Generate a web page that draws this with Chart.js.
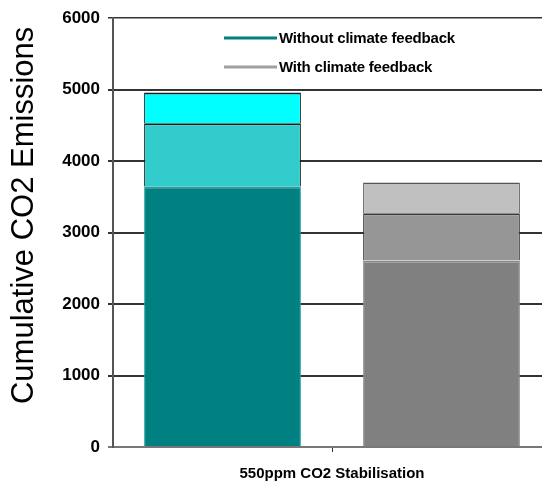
<!DOCTYPE html>
<html>
<head>
<meta charset="utf-8">
<script src="https://cdn.jsdelivr.net/npm/chart.js@4.4.1/dist/chart.umd.min.js"></script>
<style>
  html, body { margin: 0; padding: 0; background: #ffffff; overflow: hidden; }
  #wrap { width: 552px; height: 483px; }
</style>
</head>
<body>
<div id="wrap"><canvas id="c" width="552" height="483"></canvas></div>
<script>
// Category and axis labels
const categories = ['550ppm CO2 Stabilisation'];
const yTitle = '    Cumulative CO2 Emissions';
const legendLabels = ['Without climate feedback', 'With climate feedback'];

// Stacked segments (cumulative emissions, each segment added on top of the previous)
const withoutFeedbackBase = [3650];
const withoutFeedbackMid  = [880];
const withoutFeedbackTop  = [430];
const withFeedbackBase    = [2610];
const withFeedbackMid     = [660];
const withFeedbackTop     = [430];

const tealColors = ['#008080', '#33CCCC', '#00FFFF'];
const greyColors = ['#808080', '#969696', '#C0C0C0'];
const legendColors = ['#008080', '#A0A0A0'];

const FONT = '"Liberation Sans", Arial, sans-serif';

function seg(data, color, stack, edge, topW) {
  return {
    data: data,
    backgroundColor: color,
    borderColor: edge,
    borderWidth: { top: topW, left: 1, right: 1, bottom: 0 },
    borderSkipped: false,
    inflateAmount: 0,
    stack: stack,
    categoryPercentage: 1.0,
    barPercentage: 0.716
  };
}

// Line-style legend drawn inside the plot area
const lineLegend = {
  id: 'lineLegend',
  afterDatasetsDraw(chart) {
    const ctx = chart.ctx;
    ctx.save();
    const x0 = 224, x1 = 277;
    const rows = [38, 67];
    ctx.font = 'bold 15px ' + FONT;
    ctx.textBaseline = 'middle';
    ctx.textAlign = 'left';
    try { ctx.letterSpacing = '-0.2px'; } catch (e) {}
    legendLabels.forEach((label, i) => {
      ctx.strokeStyle = legendColors[i];
      ctx.lineWidth = 3;
      ctx.beginPath();
      ctx.moveTo(x0, rows[i]);
      ctx.lineTo(x1, rows[i]);
      ctx.stroke();
      ctx.fillStyle = '#000';
      ctx.fillText(label, x1 + 2, rows[i] + 1);
    });
    ctx.restore();
  }
};

const bgPlugin = {
  id: 'bg',
  beforeDraw(chart) {
    const ctx = chart.ctx;
    ctx.save();
    ctx.fillStyle = '#fff';
    ctx.fillRect(0, 0, chart.width, chart.height);
    ctx.restore();
  }
};

new Chart(document.getElementById('c'), {
  type: 'bar',
  data: {
    labels: categories,
    datasets: [
      seg(withoutFeedbackBase, tealColors[0], 'without', '#24a2a2', 2),
      seg(withoutFeedbackMid,  tealColors[1], 'without', '#1a1a1a', 2),
      seg(withoutFeedbackTop,  tealColors[2], 'without', '#1a1a1a', 2),
      seg(withFeedbackBase,    greyColors[0], 'with', '#8a8a8a', 2),
      seg(withFeedbackMid,     greyColors[1], 'with', '#3a3a3a', 2),
      seg(withFeedbackTop,     greyColors[2], 'with', '#555', 1.5)
    ]
  },
  options: {
    responsive: false,
    animation: false,
    devicePixelRatio: 1,
    layout: { padding: { top: 16, right: 1, left: 0, bottom: 0 } },
    plugins: {
      legend: { display: false },
      tooltip: { enabled: false }
    },
    scales: {
      x: {
        stacked: true,
        afterFit(scale) { scale.height = 36; },
        grid: {
          offset: false,
          drawOnChartArea: false,
          drawTicks: true,
          tickLength: 5,
          color: '#333',
          lineWidth: 1
        },
        border: { display: true, color: '#777', width: 2 },
        ticks: {
          color: '#000',
          padding: 13,
          font: { family: FONT, size: 15, weight: 'bold' }
        }
      },
      y: {
        stacked: true,
        min: 0,
        max: 6000,
        afterFit(scale) { scale.width = 113; },
        grid: {
          color: (c) => c.tick && c.tick.value === 0 ? '#777' : '#333',
          lineWidth: (c) => c.tick && c.tick.value === 6000 ? 1.5 : 2,
          tickLength: 5
        },
        border: { display: true, color: '#555', width: 2 },
        ticks: {
          stepSize: 1000,
          color: '#000',
          padding: 8,
          font: { family: FONT, size: 17, weight: 'bold' },
          callback: (v) => String(v)
        },
        title: {
          display: true,
          text: yTitle,
          color: '#000',
          padding: { top: 6, bottom: 0 },
          font: { family: FONT, size: 31, weight: 'normal' }
        }
      }
    }
  },
  plugins: [bgPlugin, lineLegend]
});
</script>
</body>
</html>
